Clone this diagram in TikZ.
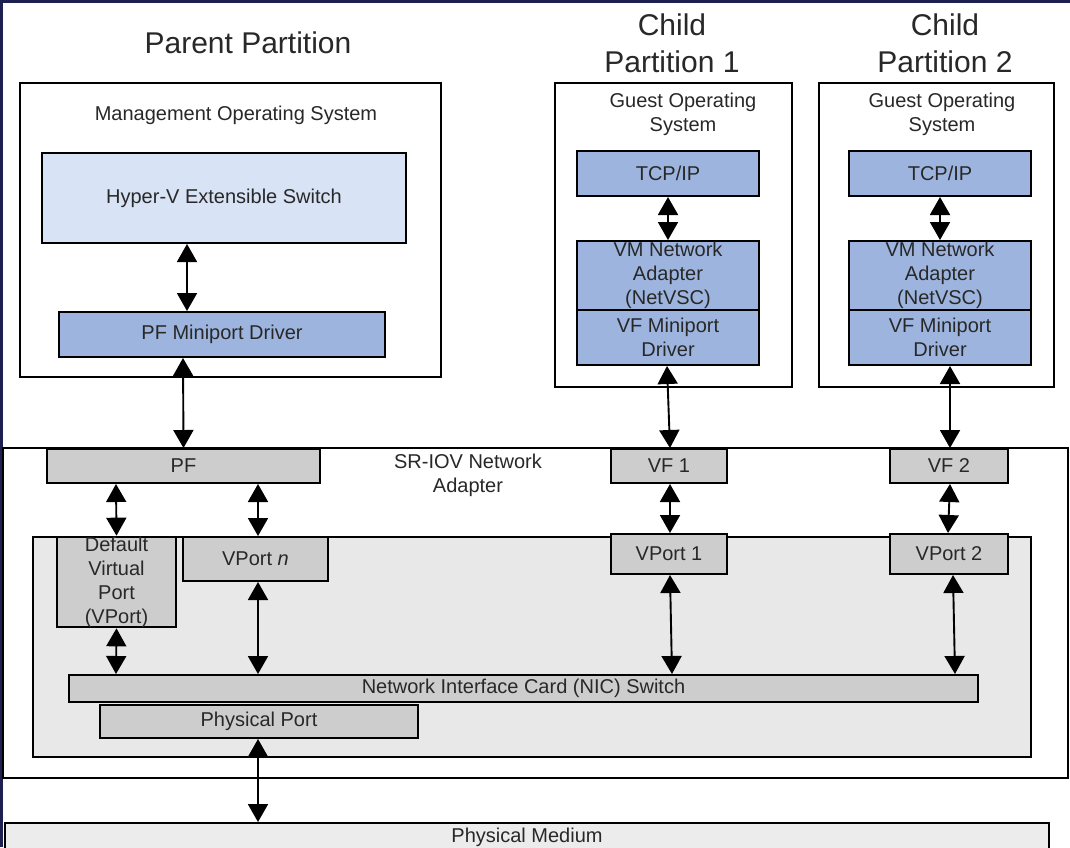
\documentclass[tikz,border=0pt]{standalone}
\usepackage{fontspec}
\setmainfont{Liberation Sans}
\usetikzlibrary{arrows.meta}
\definecolor{swblue}{RGB}{217,227,246}
\definecolor{drvblue}{RGB}{157,181,222}
\definecolor{portgray}{RGB}{205,205,205}
\definecolor{nicgray}{RGB}{232,232,232}
\definecolor{medgray}{RGB}{236,236,236}
\definecolor{framenavy}{RGB}{30,32,80}
\definecolor{txtgray}{RGB}{40,40,40}
\begin{document}
\begin{tikzpicture}[x=1pt,y=-1pt,
	every node/.style={inner sep=0pt,align=center,text=txtgray,font=\fontsize{20}{24}\selectfont},
	box/.style 2 args={draw=black,line width=2pt,minimum width=#1,minimum height=#2},
	titletext/.style={font=\fontsize{30}{37}\selectfont},
	biarrow/.style={line width=1.9pt,{Triangle[width=20pt,length=18pt]}-{Triangle[width=20pt,length=18pt]}}]
	\useasboundingbox (0,0) rectangle (1070,847);
	\clip (0,0) rectangle (1070,847);
	\fill [white] (0,0) rectangle (1070,847);
	\fill [framenavy] (0,0) rectangle (1070,3);
	\fill [framenavy] (0,0) rectangle (3,847);
	\node [titletext] (parenttitle) at (248,43) {Parent Partition};
	\node [titletext] (child1title) at (672,43) {Child\\Partition 1};
	\node [titletext] (child2title) at (945,43) {Child\\Partition 2};
	\node [box={421pt}{294pt},fill=white] (mgmt) at (230.5,230) {};
	\node (mgmtlabel) at (236,115) {Management Operating System};
	\node [box={364pt}{90pt},fill=swblue] (hyperv) at (224,198) {Hyper-V Extensible Switch};
	\node [box={326pt}{45pt},fill=drvblue] (pfmini) at (222,334.5) {PF Miniport Driver};
	\node [box={237pt}{304pt},fill=white] (child1) at (673.5,235) {};
	\node (guest1) at (683,114) {Guest Operating\\System};
	\node [box={182pt}{45pt},fill=drvblue] (tcp1) at (668,173.5) {TCP/IP};
	\node [box={182pt}{69pt},fill=drvblue] (vmna1) at (668,275.5) {VM Network\\Adapter\\(NetVSC)};
	\node [box={182pt}{55pt},fill=drvblue] (vfmini1) at (668,337.5) {VF Miniport\\Driver};
	\node [box={235pt}{304pt},fill=white] (child2) at (936.5,235) {};
	\node (guest2) at (942,114) {Guest Operating\\System};
	\node [box={182pt}{45pt},fill=drvblue] (tcp2) at (940,173.5) {TCP/IP};
	\node [box={182pt}{69pt},fill=drvblue] (vmna2) at (940,275.5) {VM Network\\Adapter\\(NetVSC)};
	\node [box={182pt}{55pt},fill=drvblue] (vfmini2) at (940,337.5) {VF Miniport\\Driver};
	\node [box={1065pt}{330pt},fill=white] (sriov) at (535.5,613) {};
	\node (sriovlabel) at (468,475) {SR-IOV Network\\Adapter};
	\node [box={998pt}{220pt},fill=nicgray] (inner) at (532,647) {};
	\node [box={273pt}{34pt},fill=portgray] (pf) at (183.5,466) {PF};
	\node [box={116pt}{34pt},fill=portgray] (vf1) at (669,466) {VF 1};
	\node [box={118pt}{34pt},fill=portgray] (vf2) at (949,466) {VF 2};
	\node [box={119pt}{90pt},fill=portgray] (defvport) at (116.5,582) {Default\\Virtual\\Port\\(VPort)};
	\node [box={145pt}{44pt},fill=portgray] (vportn) at (255.5,559) {VPort \textit{n}};
	\node [box={116pt}{40pt},fill=portgray] (vport1) at (669,554) {VPort 1};
	\node [box={118pt}{40pt},fill=portgray] (vport2) at (949,554) {VPort 2};
	\node [box={909pt}{27pt},fill=portgray] (nic) at (523.5,688.5) {Network Interface Card (NIC) Switch};
	\node [box={318pt}{33pt},fill=portgray] (physport) at (259,721.5) {Physical Port};
	\node [box={1044pt}{28pt},fill=medgray] (medium) at (527,837) {Physical Medium};
	\draw [biarrow] ([xshift=-37pt]hyperv.south) -- ([xshift=-35pt]pfmini.north);
	\draw [biarrow] ([xshift=-39pt]pfmini.south) -- (pf.north);
	\draw [biarrow] (tcp1.south) -- (vmna1.north);
	\draw [biarrow] (tcp2.south) -- (vmna2.north);
	\draw [biarrow] ([xshift=-1pt]vfmini1.south) -- ([xshift=1pt]vf1.north);
	\draw [biarrow] ([xshift=10pt]vfmini2.south) -- ([xshift=1pt]vf2.north);
	\draw [biarrow] ([xshift=-67.5pt]pf.south) -- (defvport.north);
	\draw [biarrow] ([xshift=74.5pt]pf.south) -- ([xshift=2.5pt]vportn.north);
	\draw [biarrow] (defvport.south) -- ([xshift=-407.5pt]nic.north);
	\draw [biarrow] ([xshift=2.5pt]vportn.south) -- ([xshift=-265.5pt]nic.north);
	\draw [biarrow] ([xshift=1pt]vf1.south) -- ([xshift=1pt]vport1.north);
	\draw [biarrow] ([xshift=1pt]vport1.south) -- ([xshift=148.5pt]nic.north);
	\draw [biarrow] ([xshift=1pt]vf2.south) -- ([xshift=-1pt]vport2.north);
	\draw [biarrow] ([xshift=4pt]vport2.south) -- ([xshift=431.5pt]nic.north);
	\draw [biarrow] ([xshift=-1pt]physport.south) -- ([xshift=-269pt]medium.north);
\end{tikzpicture}
\end{document}
